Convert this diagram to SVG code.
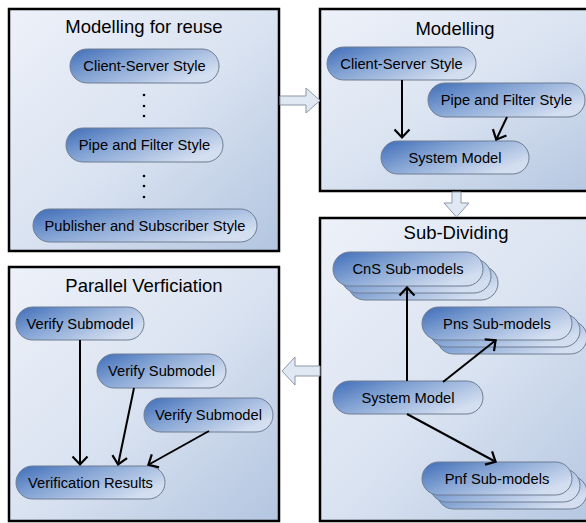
<svg xmlns="http://www.w3.org/2000/svg" width="586" height="523" viewBox="0 0 586 523">
<defs>
  <linearGradient id="boxg" x1="0" y1="0" x2="1" y2="1">
    <stop offset="0" stop-color="#edf1f9"/>
    <stop offset="0.5" stop-color="#dae3f1"/>
    <stop offset="1" stop-color="#b3c5e0"/>
  </linearGradient>
  <linearGradient id="pillg" x1="0" y1="0" x2="1" y2="0.6">
    <stop offset="0" stop-color="#3f6db8"/>
    <stop offset="0.45" stop-color="#87a6d5"/>
    <stop offset="1" stop-color="#d3def0"/>
  </linearGradient>
  <marker id="arr" markerUnits="userSpaceOnUse" markerWidth="12" markerHeight="18" viewBox="0 0 12 18" refX="10.5" refY="9" orient="auto">
    <path d="M2,1.5 L10,9 L2,16.5" fill="none" stroke="#000" stroke-width="2.2"/>
  </marker>
</defs>
<style>
  .box { fill: url(#boxg); stroke: #000; stroke-width: 2.5; }
  .pill { fill: url(#pillg); stroke: #6e7d92; stroke-width: 1; }
  .title { font-family: "Liberation Sans", Arial, sans-serif; font-size: 18.5px; fill: #000; text-anchor: middle; }
  .lbl { font-family: "Liberation Sans", Arial, sans-serif; font-size: 14.7px; fill: #000; text-anchor: middle; }
  .conn { stroke: #000; stroke-width: 2; fill: none; marker-end: url(#arr); }
  .block { fill: #e0e8f4; stroke: #8d97a6; stroke-width: 1; }
  .dot { fill: #000; }
</style>

<g id="box-reuse">
  <rect class="box" x="9" y="9" width="270" height="242"/>
  <text class="title" x="144" y="33">Modelling for reuse</text>
  <g id="reuse-cs"><rect class="pill" x="70" y="49" width="149" height="34" rx="17"/><text class="lbl" x="144.5" y="71">Client-Server Style</text></g>
  <circle class="dot" cx="144" cy="95" r="1.3"/><circle class="dot" cx="144" cy="106" r="1.3"/><circle class="dot" cx="144" cy="116" r="1.3"/>
  <g id="reuse-pf"><rect class="pill" x="66" y="128" width="157" height="34" rx="17"/><text class="lbl" x="144.5" y="150">Pipe and Filter Style</text></g>
  <circle class="dot" cx="144" cy="176" r="1.3"/><circle class="dot" cx="144" cy="186" r="1.3"/><circle class="dot" cx="144" cy="197" r="1.3"/>
  <g id="reuse-ps"><rect class="pill" x="33" y="209" width="224" height="33" rx="16.5"/><text class="lbl" x="145" y="230.7">Publisher and Subscriber Style</text></g>
</g>

<g id="box-modelling">
  <rect class="box" x="320" y="9" width="290" height="182"/>
  <text class="title" x="455" y="35">Modelling</text>
  <g id="mod-cs"><rect class="pill" x="327" y="47" width="149" height="33" rx="16.5"/><text class="lbl" x="401.5" y="68.7">Client-Server Style</text></g>
  <g id="mod-pf"><rect class="pill" x="428" y="83" width="157" height="34" rx="17"/><text class="lbl" x="506.5" y="105">Pipe and Filter Style</text></g>
  <g id="mod-sm"><rect class="pill" x="381" y="141" width="148" height="33" rx="16.5"/><text class="lbl" x="455" y="162.7">System Model</text></g>
</g>

<g id="box-subdividing">
  <rect class="box" x="320" y="218" width="290" height="303"/>
  <text class="title" x="456" y="239">Sub-Dividing</text>
  <g id="sub-cns">
    <rect class="pill" x="348" y="266" width="150" height="34" rx="17"/>
    <rect class="pill" x="341" y="259" width="150" height="34" rx="17"/>
    <rect class="pill" x="333" y="252" width="150" height="34" rx="17"/>
    <text class="lbl" x="408" y="274">CnS Sub-models</text>
  </g>
  <g id="sub-pns">
    <rect class="pill" x="437" y="321" width="150" height="33" rx="16.5"/>
    <rect class="pill" x="430" y="314" width="150" height="33" rx="16.5"/>
    <rect class="pill" x="422" y="307" width="150" height="33" rx="16.5"/>
    <text class="lbl" x="497" y="328.7">Pns Sub-models</text>
  </g>
  <g id="sub-sm"><rect class="pill" x="333" y="381" width="150" height="33" rx="16.5"/><text class="lbl" x="408" y="402.7">System Model</text></g>
  <g id="sub-pnf">
    <rect class="pill" x="437" y="476" width="150" height="33" rx="16.5"/>
    <rect class="pill" x="430" y="469" width="150" height="33" rx="16.5"/>
    <rect class="pill" x="422" y="462" width="150" height="33" rx="16.5"/>
    <text class="lbl" x="497" y="483.7">Pnf Sub-models</text>
  </g>
</g>

<g id="box-verification">
  <rect class="box" x="9" y="267" width="270" height="254"/>
  <text class="title" x="144" y="292">Parallel Verficiation</text>
  <g id="ver-1"><rect class="pill" x="16" y="307" width="128" height="33" rx="16.5"/><text class="lbl" x="80" y="328.7">Verify Submodel</text></g>
  <g id="ver-2"><rect class="pill" x="97" y="354" width="129" height="34" rx="17"/><text class="lbl" x="161.5" y="376">Verify Submodel</text></g>
  <g id="ver-3"><rect class="pill" x="144" y="398" width="129" height="34" rx="17"/><text class="lbl" x="208.5" y="420">Verify Submodel</text></g>
  <g id="ver-res"><rect class="pill" x="16" y="466" width="149" height="33" rx="16.5"/><text class="lbl" x="90.5" y="487.7">Verification Results</text></g>
</g>

<g id="connectors">
  <polygon class="block" points="280,96 306,96 306,88 320,100.5 306,113 306,105 280,105"/>
  <polygon class="block" points="452,192 461,192 461,203 469,203 456.5,217 444,203 452,203"/>
  <polygon class="block" points="320,366 295,366 295,357 282,371 295,385 295,376 320,376"/>
  <line class="conn" x1="402" y1="80" x2="402" y2="138"/>
  <line class="conn" x1="507" y1="117" x2="496" y2="140"/>
  <line class="conn" x1="407" y1="381" x2="407" y2="287"/>
  <line class="conn" x1="443" y1="382" x2="496" y2="340"/>
  <line class="conn" x1="407" y1="414" x2="496" y2="462"/>
  <line class="conn" x1="80" y1="340" x2="80" y2="465"/>
  <line class="conn" x1="134" y1="388" x2="118" y2="465"/>
  <line class="conn" x1="209" y1="431" x2="148" y2="465"/>
</g>
</svg>
